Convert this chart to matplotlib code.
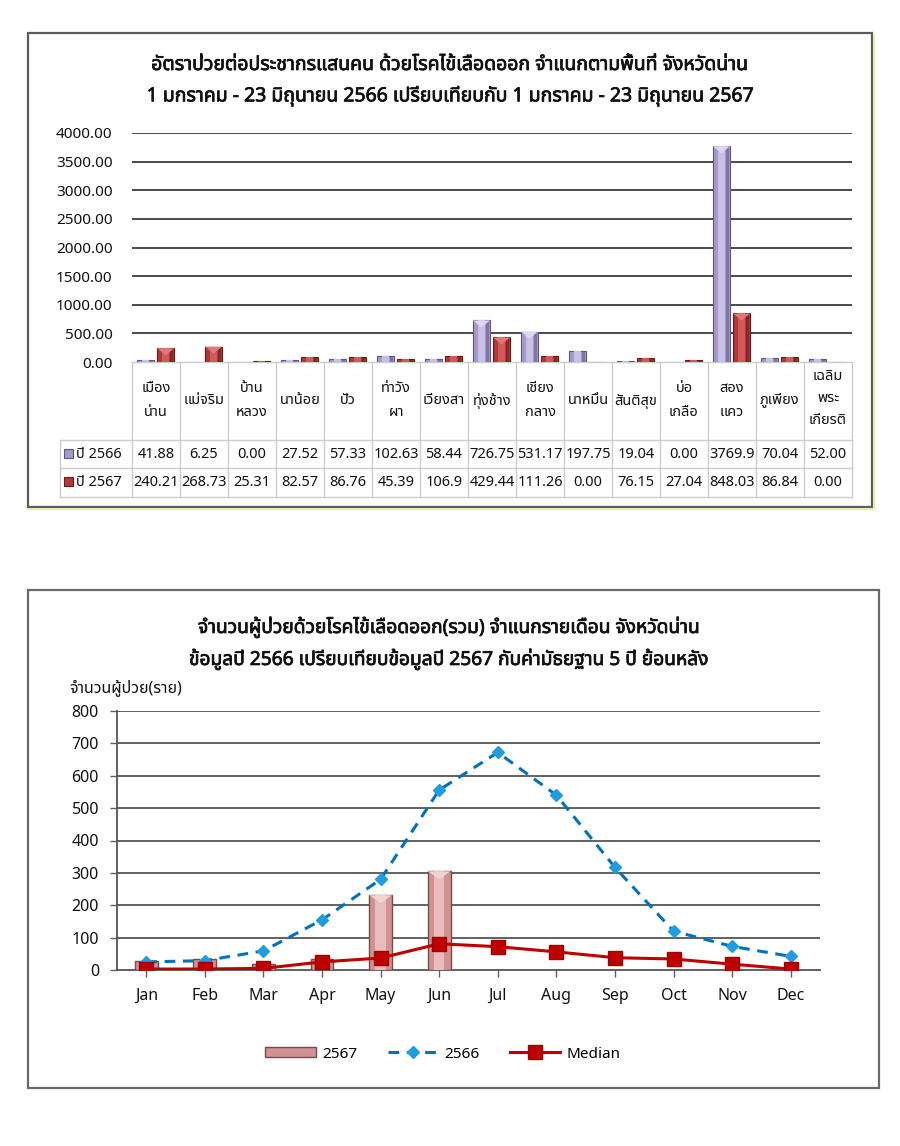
import matplotlib
matplotlib.use('Agg')
import matplotlib.pyplot as plt
from matplotlib import font_manager, ft2font
import matplotlib.patheffects as pe
from matplotlib.patches import Rectangle, Polygon
import numpy as np

# ---------------- data ----------------
districts = ['เมือง\nน่าน', 'แม่จริม', 'บ้าน\nหลวง', 'นาน้อย', 'ปัว', 'ท่าวัง\nผา', 'เวียงสา',
             'ทุ่งช้าง', 'เชียง\nกลาง', 'นาหมื่น', 'สันติสุข', 'บ่อ\nเกลือ', 'สอง\nแคว',
             'ภูเพียง', 'เฉลิม\nพระ\nเกียรติ']
rate_2566_txt = ['41.88', '6.25', '0.00', '27.52', '57.33', '102.63', '58.44', '726.75',
                 '531.17', '197.75', '19.04', '0.00', '3769.9', '70.04', '52.00']
rate_2567_txt = ['240.21', '268.73', '25.31', '82.57', '86.76', '45.39', '106.9', '429.44',
                 '111.26', '0.00', '76.15', '27.04', '848.03', '86.84', '0.00']
rate_2566 = [float(s) for s in rate_2566_txt]
rate_2567 = [float(s) for s in rate_2567_txt]
series_top = ['ปี 2566', 'ปี 2567']
yticks_top = [0, 500, 1000, 1500, 2000, 2500, 3000, 3500, 4000]

months = ['Jan', 'Feb', 'Mar', 'Apr', 'May', 'Jun', 'Jul', 'Aug', 'Sep', 'Oct', 'Nov', 'Dec']
cases_2567 = [27, 33, 18, 35, 231, 305]
cases_2566 = [25, 29, 59, 155, 280, 556, 672, 540, 317, 120, 73, 42]
median_5y = [3, 3, 5, 25, 37, 81, 72, 56, 38, 34, 18, 3]
yticks_bot = [0, 100, 200, 300, 400, 500, 600, 700, 800]

title_top = ['อัตราป่วยต่อประชากรแสนคน ด้วยโรคไข้เลือดออก จำแนกตามพื้นที่ จังหวัดน่าน',
             '1 มกราคม - 23 มิถุนายน 2566 เปรียบเทียบกับ 1 มกราคม - 23 มิถุนายน 2567']
title_bot = ['จำนวนผู้ป่วยด้วยโรคไข้เลือดออก(รวม) จำแนกรายเดือน จังหวัดน่าน',
             'ข้อมูลปี 2566 เปรียบเทียบข้อมูลปี 2567 กับค่ามัธยฐาน 5 ปี ย้อนหลัง']
ylabel_bot = 'จำนวนผู้ป่วย(ราย)'
legend_bot = ['2567', '2566', 'Median']


# ---------------- fonts ----------------
def find_thai_font():
    names = []
    for f in font_manager.fontManager.ttflist:
        try:
            cm = ft2font.FT2Font(f.fname).get_charmap()
        except Exception:
            continue
        if 0x0E01 in cm and 0x0E48 in cm:
            names.append(f.name)
    for p in ['Tahoma', 'Noto Sans Thai', 'Noto Sans Thai UI', 'Loma', 'Garuda', 'Norasi']:
        if p in names:
            return p
    return names[0] if names else None


thai = find_thai_font()
FAM = [thai, 'DejaVu Sans'] if thai else ['DejaVu Sans']
plt.rcParams['font.family'] = FAM

W, H = 900, 1146
fig = plt.figure(figsize=(W / 100, H / 100), dpi=100)
fig.patch.set_facecolor('white')


def fx(x):
    return x / W


def fy(y):
    return 1 - y / H


TXT = '#111111'
bold_fx = [pe.withStroke(linewidth=0.55, foreground=TXT)]

# overlay in pixel coordinates (for frames, table, titles)
ov = fig.add_axes([0, 0, 1, 1], zorder=0)
ov.set_xlim(0, W)
ov.set_ylim(H, 0)
ov.axis('off')

# panel frames
ov.add_patch(Rectangle((28, 33), 844, 474, fill=False, ec='#5a5a5a', lw=1.6))
ov.plot([29, 873], [509, 509], color='#e8ecb0', lw=1.5)
ov.plot([874, 874], [35, 509], color='#e8ecb0', lw=1.5)
ov.add_patch(Rectangle((28, 590), 851, 498, fill=False, ec='#6a6a6a', lw=1.6))

# titles
for yy, t in [(65, title_top[0]), (96, title_top[1])]:
    ov.text(450, yy, t, ha='center', va='center', fontsize=14, color=TXT, path_effects=bold_fx)
for yy, t in [(627, title_bot[0]), (659, title_bot[1])]:
    ov.text(448, yy, t, ha='center', va='center', fontsize=13.8, color=TXT, path_effects=bold_fx)


# ---------------- top chart ----------------
ax1 = fig.add_axes([fx(132), fy(362), fx(720), 229 / H], zorder=2)
ax1.patch.set_alpha(0)
n = len(districts)
x = np.arange(n)
bw = 0.36
off1, off2 = -0.22, 0.2


def bevel_bars(ax, xs, hs, width, base, light, dark, z=3):
    ax.bar(xs, hs, width, color=base, edgecolor=dark, linewidth=0.8, zorder=z)
    ax.bar(xs, hs, width * 0.45, color=light, linewidth=0, zorder=z + 0.1)
    ax.bar(np.asarray(xs) + width * 0.36, hs, width * 0.18, color=dark, alpha=0.55,
           linewidth=0, zorder=z + 0.1)


bevel_bars(ax1, x + off1, rate_2566, bw, '#a69bc8', '#c8c0e2', '#5f567f')
bevel_bars(ax1, x + off2, rate_2567, bw, '#b03838', '#cf5a5a', '#6e1818')
# pyramid tops
dy_px = 4000 / 229.0
for xs, hs, col in [(x + off1, rate_2566, '#ddd6f0'), (x + off2, rate_2567, '#e07a7a')]:
    for xi, hi in zip(xs, hs):
        if hi > 12 * dy_px:
            ax1.add_patch(Polygon([[xi - bw / 2, hi], [xi + bw / 2, hi], [xi, hi - 7 * dy_px]],
                                  closed=True, fc=col, ec='none', zorder=3.5))

ax1.set_xlim(-0.5, n - 0.5)
ax1.set_ylim(0, 4000)
ax1.set_yticks(yticks_top)
ax1.set_yticklabels([f'{v:.2f}' for v in yticks_top], fontsize=11, color=TXT)
ax1.tick_params(axis='y', length=0, pad=14)
ax1.set_xticks([])
for s in ax1.spines.values():
    s.set_visible(False)
for v in yticks_top[1:]:
    ax1.axhline(v, color='#3c3c3c', lw=1.3, zorder=1)

# data table (pixel coordinates)
tl, cw = 132, 48
tr = tl + cw * n
grid_c = '#cccccc'
ov.plot([tl, tr], [362, 362], color=grid_c, lw=1)
ov.plot([60, tr], [440, 440], color=grid_c, lw=1)
ov.plot([60, tr], [468, 468], color=grid_c, lw=1)
ov.plot([60, tr], [497, 497], color=grid_c, lw=1)
ov.plot([60, 60], [440, 497], color=grid_c, lw=1)
for i in range(n + 1):
    ov.plot([tl + i * cw, tl + i * cw], [362, 497], color=grid_c, lw=1)
for i, name in enumerate(districts):
    lines = name.split('\n')
    cx = tl + (i + 0.5) * cw
    if len(lines) == 1:
        ys = [401]
    elif len(lines) == 2:
        ys = [389, 412]
    else:
        ys = [376, 398, 420]
    for yy, t in zip(ys, lines):
        ov.text(cx, yy, t, ha='center', va='center', fontsize=10.5, color=TXT)
    ov.text(cx, 454, rate_2566_txt[i], ha='center', va='center', fontsize=10.5, color=TXT)
    ov.text(cx, 482, rate_2567_txt[i], ha='center', va='center', fontsize=10.5, color=TXT)
for yy, lab, col, ec in [(454, series_top[0], '#a69bc8', '#5f567f'), (482, series_top[1], '#b03838', '#6e1818')]:
    ov.add_patch(Rectangle((64, yy - 5), 9, 9, fc=col, ec=ec, lw=0.8))
    ov.text(76, yy, lab, ha='left', va='center', fontsize=10.5, color=TXT)


# ---------------- bottom chart ----------------
ax2 = fig.add_axes([fx(117), fy(970), fx(703), 259 / H], zorder=2)
ax2.patch.set_alpha(0)
xm = np.arange(len(months))
bw2 = 0.39
bar_h = ax2.bar(xm[:len(cases_2567)], cases_2567, bw2, color='#d09393', edgecolor='#7a4a4a',
                linewidth=1.0, zorder=3)
ax2.bar(xm[:len(cases_2567)], cases_2567, bw2 * 0.45, color='#ebbcbc', linewidth=0, zorder=3.1)
dy2 = 800 / 259.0
for xi, hi in zip(xm[:len(cases_2567)], cases_2567):
    if hi > 15 * dy2:
        ax2.add_patch(Polygon([[xi - bw2 / 2, hi], [xi + bw2 / 2, hi], [xi, hi - 8 * dy2]],
                              closed=True, fc='#f3d2d2', ec='none', zorder=3.2))
line66, = ax2.plot(xm, cases_2566, color='#0070c0', lw=2.2, ls=(0, (3.5, 2.5)), marker='D',
                   markersize=6.5, markerfacecolor='#1f9de0', markeredgecolor='#1f9de0', zorder=4)
lineMed, = ax2.plot(xm, median_5y, color='#c00000', lw=2.2, marker='s', markersize=10,
                    markerfacecolor='#c00000', markeredgecolor='#a00000', zorder=5)

ax2.set_xlim(-0.5, len(months) - 0.5)
ax2.set_ylim(0, 800)
ax2.set_yticks(yticks_bot)
ax2.set_yticklabels([str(v) for v in yticks_bot], fontsize=11.5, color=TXT)
ax2.set_xticks(xm)
ax2.set_xticklabels(months, fontsize=11.5, color=TXT)
ax2.tick_params(axis='y', length=5, width=1, color='#606060', pad=8)
ax2.tick_params(axis='x', length=5, width=1, color='#606060', pad=8)
for v in yticks_bot[1:]:
    ax2.axhline(v, color='#555555', lw=1.3, zorder=1)
ax2.spines['top'].set_visible(False)
ax2.spines['right'].set_visible(False)
ax2.spines['left'].set_color('#555555')
ax2.spines['left'].set_linewidth(1.3)
ax2.spines['bottom'].set_color('#555555')
ax2.spines['bottom'].set_linewidth(1.3)

ov.text(69, 688, ylabel_bot, ha='left', va='center', fontsize=11.5, color=TXT)

leg = fig.legend([bar_h, line66, lineMed], legend_bot, loc='center',
                 bbox_to_anchor=(fx(443), fy(1054)), ncol=3, frameon=False,
                 fontsize=11, handlelength=3.3, handleheight=0.6, columnspacing=2.0,
                 handletextpad=0.4)

fig.savefig('out.png', dpi=100, facecolor='white')
